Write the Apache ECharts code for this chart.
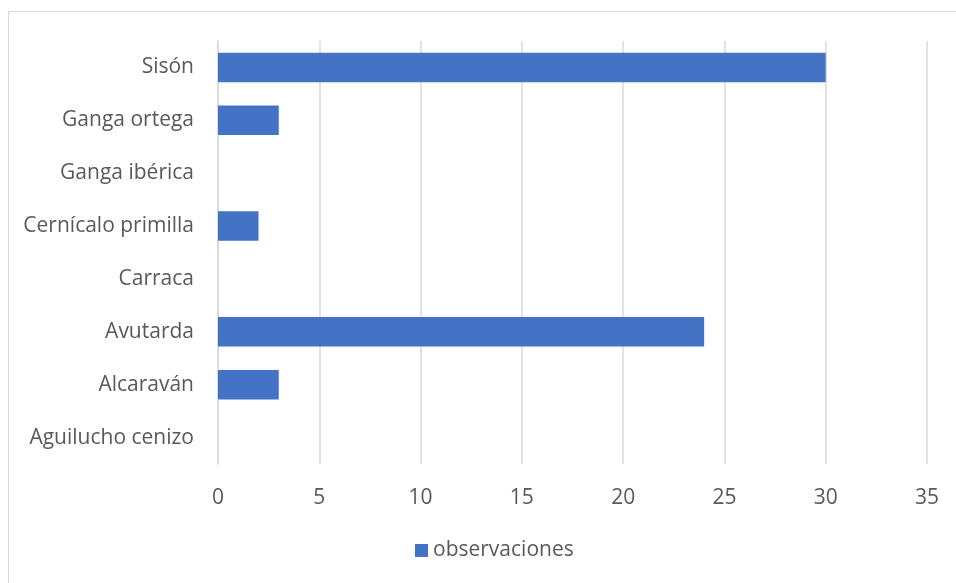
<!DOCTYPE html>
<html><head><meta charset="utf-8">
<script src="https://cdn.jsdelivr.net/npm/echarts@6/dist/echarts.min.js"></script>
<style>html,body{margin:0;padding:0;background:#fff}#c{width:956px;height:583px;position:relative}
#b{position:absolute;left:8px;top:11px;width:960px;height:600px;border:1px solid #d9d9d9;box-sizing:border-box;pointer-events:none}</style>
</head><body><div id="c"></div><div id="b"></div>
<script>
const categories = ["Aguilucho cenizo","Alcaraván","Avutarda","Carraca","Cernícalo primilla","Ganga ibérica","Ganga ortega","Sisón"];
const observaciones = [0,3,24,0,2,0,3,30];
const xTicks = [0,5,10,15,20,25,30,35];
const chart = echarts.init(document.getElementById('c'));
const font = "'Open Sans', sans-serif";
chart.setOption({
  animation:false,
  textStyle:{fontFamily:font},
  grid:{left:218,right:29,top:41,bottom:119,containLabel:false},
  legend:{bottom:17,left:410,itemWidth:13,itemHeight:13,icon:'rect',itemGap:4,
    textStyle:{color:'#595959',fontSize:21,fontFamily:font},data:['observaciones']},
  xAxis:{type:'value',min:xTicks[0],max:xTicks[xTicks.length-1],interval:5,
    axisLine:{show:false},axisTick:{show:false},
    axisLabel:{color:'#595959',fontSize:21,margin:24,fontFamily:font},
    splitLine:{lineStyle:{color:'#d9d9d9',width:1.5}}},
  yAxis:{type:'category',data:categories,
    axisLine:{show:true,lineStyle:{color:'#d9d9d9',width:1.5}},axisTick:{show:false},
    axisLabel:{color:'#595959',fontSize:21,margin:24,fontFamily:font}},
  series:[{name:'observaciones',type:'bar',data:observaciones,barCategoryGap:'44%',
    itemStyle:{color:'#4472C4'}}]
});
</script></body></html>
